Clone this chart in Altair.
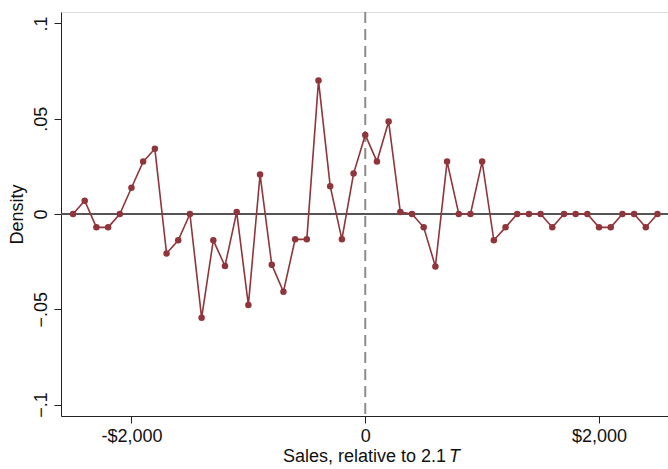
import altair as alt
import pandas as pd

# Data
sales = list(range(-2500, 2600, 100))
density = [
    0.0, 0.007, -0.007, -0.007, 0.0, 0.0138, 0.0275, 0.0342, -0.0207, -0.0138,
    0.0, -0.0545, -0.0138, -0.0273, 0.001, -0.0478, 0.0207, -0.0266, -0.0408, -0.0133,
    -0.0133, 0.070, 0.0146, -0.0133, 0.0212, 0.0415, 0.0275, 0.0485, 0.001, 0.0,
    -0.007, -0.0275, 0.0275, 0.0, 0.0, 0.0275, -0.0138, -0.007, 0.0, 0.0,
    0.0, -0.007, 0.0, 0.0, 0.0, -0.007, -0.007, 0.0, 0.0, -0.007,
    0.0,
]
y_ticks = [-0.1, -0.05, 0, 0.05, 0.1]
x_ticks = [-2000, 0, 2000]
x_title = "Sales, relative to 2.1"
x_title_italic = "T"

df = pd.DataFrame({"sales": sales, "density": density})

FONT = "Liberation Sans"
RED = "#90353B"

xs = alt.Scale(domain=[-2603, 2590], nice=False, zero=False)
ys = alt.Scale(domain=[-0.106, 0.106], nice=False, zero=False)

x_enc = alt.X(
    "sales:Q", scale=xs,
    axis=alt.Axis(
        values=x_ticks, title=None, grid=False,
        labelExpr="datum.value == 0 ? '0' : (datum.value < 0 ? '-$' : '$') + format(abs(datum.value), ',')",
        labelFont=FONT, labelFontSize=18, labelColor="#111",
        tickSize=7, tickColor="#222", domainColor="#222", labelPadding=4,
    ),
)
y_enc = alt.Y(
    "density:Q", scale=ys,
    axis=alt.Axis(
        values=y_ticks, title="Density", grid=False,
        labelExpr="datum.value == 0 ? '0' : replace(format(datum.value, '.2~f'), '0.', '.')",
        labelAngle=-90, labelAlign="center", labelBaseline="bottom",
        labelFont=FONT, labelFontSize=18, labelColor="#111", labelPadding=4,
        titleFont=FONT, titleFontSize=18, titleFontWeight="normal", titleColor="#111",
        titlePadding=6,
        tickSize=7, tickColor="#222", domainColor="#222",
    ),
)

base = alt.Chart(df)

zero_line = alt.Chart(pd.DataFrame({"y": [0]})).mark_rule(
    color="#555555", strokeWidth=1.8
).encode(y=alt.Y("y:Q", scale=ys))

vline = alt.Chart(pd.DataFrame({"x": [0]})).mark_rule(
    color="#8c8c8c", strokeWidth=2, strokeDash=[11, 6]
).encode(x=alt.X("x:Q", scale=xs))

line = base.mark_line(color=RED, strokeWidth=1.6).encode(x=x_enc, y=y_enc)
pts = base.mark_circle(color=RED, opacity=1, size=42).encode(x=x_enc, y=y_enc)

title_df = pd.DataFrame({"a": [x_title], "b": [x_title_italic]})
t1 = alt.Chart(title_df).mark_text(
    align="right", baseline="alphabetic", font=FONT, fontSize=18, color="#111"
).encode(text="a:N", x=alt.value(385), y=alt.value(450))
t2 = alt.Chart(title_df).mark_text(
    align="left", baseline="alphabetic", font=FONT, fontSize=18, fontStyle="italic", color="#111"
).encode(text="b:N", x=alt.value(388), y=alt.value(450))

chart = alt.layer(zero_line, vline, line, pts, t1, t2).properties(
    width=607, height=404,
    autosize=alt.AutoSizeParams(type="none"),
    padding={"left": 61, "top": 12, "right": 0, "bottom": 53},
).configure_view(stroke=None).configure(background="white")

chart.save("out.html", embed_options={"renderer": "svg", "actions": False})
